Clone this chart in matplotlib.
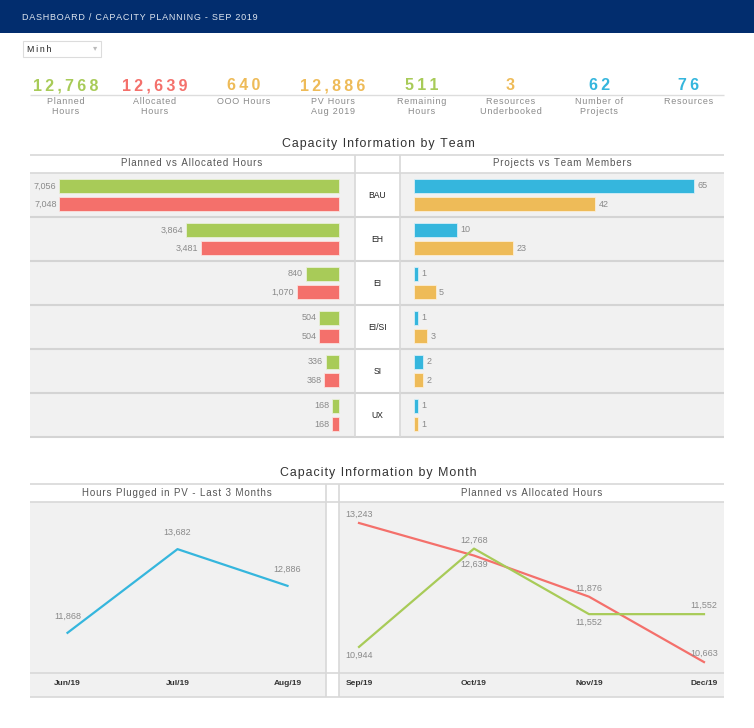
import matplotlib
matplotlib.use("Agg")
import matplotlib.pyplot as plt
from matplotlib.patches import Rectangle

plt.rcParams['font.family'] = ['Liberation Sans', 'DejaVu Sans']

# ---- data ----
kpi_values = [12768, 12639, 640, 12886, 511, 3, 62, 76]
kpi_labels = ['Planned\nHours', 'Allocated\nHours', 'OOO Hours', 'PV Hours\nAug 2019',
              'Remaining\nHours', 'Resources\nUnderbooked', 'Number of\nProjects', 'Resources']
teams = ['BAU', 'EH', 'EI', 'EI/SI', 'SI', 'UX']
planned_hours = [7056, 3864, 840, 504, 336, 168]
allocated_hours = [7048, 3481, 1070, 504, 368, 168]
projects = [65, 10, 1, 1, 2, 1]
team_members = [42, 23, 5, 3, 2, 1]
pv_months = ['Jun/19', 'Jul/19', 'Aug/19']
pv_hours = [11868, 13682, 12886]
months = ['Sep/19', 'Oct/19', 'Nov/19', 'Dec/19']
planned_month = [10944, 12768, 11552, 11552]
allocated_month = [13243, 12639, 11876, 10663]

GREEN, RED, ORANGE, BLUE = '#a8cb58', '#f4706b', '#eebb58', '#35b6dd'
kpi_colors = [GREEN, RED, ORANGE, ORANGE, GREEN, ORANGE, BLUE, BLUE]
NAVY = '#022d6e'; PANEL = '#f1f1f1'; LINE = '#d8d8d8'; GREY = '#8a8a8a'

W, H = 754, 728
fig = plt.figure(figsize=(W/100, H/100), dpi=100)

def px(x0, y0, x1, y1):
    return [x0/W, 1-y1/H, (x1-x0)/W, (y1-y0)/H]

def sp(s, gap='\u200a'):
    # letter spacing, done with narrow spaces
    return gap.join(s)

bg = fig.add_axes([0, 0, 1, 1]); bg.set_xlim(0, W); bg.set_ylim(H, 0); bg.axis('off')

def rect(x0, y0, x1, y1, fc, ec='none', lw=0):
    bg.add_patch(Rectangle((x0, y0), x1-x0, y1-y0, fc=fc, ec=ec, lw=lw))

def hline(y, x0, x1, c=LINE, lw=1.2):
    bg.plot([x0, x1], [y, y], color=c, lw=lw, solid_capstyle='butt')

def vline(x, y0, y1, c=LINE, lw=1.2):
    bg.plot([x, x], [y0, y1], color=c, lw=lw, solid_capstyle='butt')

# header
rect(0, 0, W, 33, NAVY)
bg.text(22, 17, sp('DASHBOARD / CAPACITY PLANNING - SEP 2019'), color='#dfe6f0',
        fontsize=6.5, va='center', ha='left')
rect(23, 41, 101, 57, 'white', ec='#dcdcdc', lw=0.8)
bg.text(27, 49.5, sp('Minh', '\u2009'), fontsize=6.3, va='center', color='#222')
bg.text(95, 49, '\u25be', fontsize=6, va='center', ha='center', color='#bbb')

# KPIs
for i, (v, lab, c) in enumerate(zip(kpi_values, kpi_labels, kpi_colors)):
    x = 66 + 88.9*i
    bg.text(x, 86, sp(f"{v:,}", '\u2009'), color=c, fontsize=11.5, fontweight='bold',
            ha='center', va='center')
    bg.text(x, 96.5, '\n'.join(sp(l) for l in lab.split('\n')), color=GREY, fontsize=6.5,
            ha='center', va='top', linespacing=1.2)
hline(94.5, 30, 724, c='#dddddd', lw=1)

# ---- section 1: by team ----
bg.text(378, 144, sp('Capacity Information by Team'), fontsize=8.9, color='#333',
        ha='center', va='center')
rect(30, 173, 355, 437, PANEL)
rect(400, 173, 724, 437, PANEL)
hline(155, 30, 724); hline(173, 30, 724)
for k in range(len(teams)):
    hline(173 + 44*(k+1), 30, 724, c='#d4d4d4', lw=1.5)
    bg.text(377.5, 195 + 44*k, teams[k], fontsize=6.2, color='#222', ha='center', va='center')
vline(355, 155, 437); vline(400, 155, 437)
bg.text(192, 163.5, sp('Planned vs Allocated Hours'), fontsize=7, color='#555',
        ha='center', va='center')
bg.text(562, 163.5, sp('Projects vs Team Members'), fontsize=7, color='#555',
        ha='center', va='center')

ypos = list(range(len(teams)))
axl = fig.add_axes(px(30, 173, 355, 437)); axl.set_facecolor('none'); axl.axis('off')
axl.barh([y-0.205 for y in ypos], planned_hours, height=0.33, color=GREEN, ec='#e8f0d8', lw=0.6)
axl.barh([y+0.205 for y in ypos], allocated_hours, height=0.33, color=RED, ec='#fbe0de', lw=0.6)
axl.set_xlim(7787, -403); axl.set_ylim(5.5, -0.5)
for y, a, b in zip(ypos, planned_hours, allocated_hours):
    axl.annotate(f"{a:,}", (a, y-0.205), xytext=(-2, 0), textcoords='offset points',
                 ha='right', va='center', fontsize=6.5, color=GREY)
    axl.annotate(f"{b:,}", (b, y+0.205), xytext=(-2, 0), textcoords='offset points',
                 ha='right', va='center', fontsize=6.5, color=GREY)

axr = fig.add_axes(px(400, 173, 724, 437)); axr.set_facecolor('none'); axr.axis('off')
axr.barh([y-0.205 for y in ypos], projects, height=0.33, color=BLUE, ec='#d6eef7', lw=0.6)
axr.barh([y+0.205 for y in ypos], team_members, height=0.33, color=ORANGE, ec='#fbeed6', lw=0.6)
axr.set_xlim(-3.25, 71.96); axr.set_ylim(5.5, -0.5)
for y, a, b in zip(ypos, projects, team_members):
    axr.annotate(f"{a}", (a, y-0.205), xytext=(2.5, 0), textcoords='offset points',
                 ha='left', va='center', fontsize=6.5, color=GREY)
    axr.annotate(f"{b}", (b, y+0.205), xytext=(2.5, 0), textcoords='offset points',
                 ha='left', va='center', fontsize=6.5, color=GREY)

# ---- section 2: by month ----
bg.text(378, 473, sp('Capacity Information by Month'), fontsize=8.9, color='#333',
        ha='center', va='center')
rect(30, 502, 326, 697, PANEL)
rect(339, 502, 724, 697, PANEL)
hline(484, 30, 724); hline(502, 30, 724); hline(673, 30, 724); hline(697, 30, 724)
vline(326, 484, 697); vline(339, 484, 697)
bg.text(177, 492.5, sp('Hours Plugged in PV - Last 3 Months'), fontsize=7, color='#555',
        ha='center', va='center')
bg.text(532, 492.5, sp('Planned vs Allocated Hours'), fontsize=7, color='#555',
        ha='center', va='center')

axp = fig.add_axes(px(30, 502, 326, 697)); axp.set_facecolor('none')
axp.plot(range(len(pv_months)), pv_hours, color=BLUE, lw=1.6)
axp.set_xlim(-0.341, 2.35)
# y range: plot area 502-673 px, axis extended to 697 for tick row
axp.set_ylim(11868 - (697-633)/0.046, 13682 + (549-502)/0.046)
for i, v in enumerate(pv_hours):
    axp.annotate(f"{v:,}", (i, v), xytext=(0, 9), textcoords='offset points',
                 ha='center', va='bottom', fontsize=6.5, color=GREY)
axm = fig.add_axes(px(339, 502, 724, 697)); axm.set_facecolor('none')
axm.plot(range(len(months)), allocated_month, color=RED, lw=1.6)
axm.plot(range(len(months)), planned_month, color=GREEN, lw=1.6)
axm.set_xlim(-0.174, 3.174)
axm.set_ylim(13243 - (697-523)/0.0539, 13243 + (523-502)/0.0539)
red_above = [True, False, True, True]
green_above = [False, True, False, True]
for i in range(len(months)):
    for v, up in ((allocated_month[i], red_above[i]), (planned_month[i], green_above[i])):
        axm.annotate(f"{v:,}", (i, v), xytext=(0, 3 if up else -3), textcoords='offset points',
                     ha='center', va='bottom' if up else 'top', fontsize=6.5, color=GREY)

for ax, labs in ((axp, pv_months), (axm, months)):
    for s in ax.spines.values():
        s.set_visible(False)
    ax.set_yticks([])
    ax.set_xticks(range(len(labs)))
    ax.set_xticklabels(labs, fontsize=6, fontweight='bold', color='#333')
    ax.tick_params(axis='x', length=0, pad=-12)

fig.savefig('out.png', dpi=100)
